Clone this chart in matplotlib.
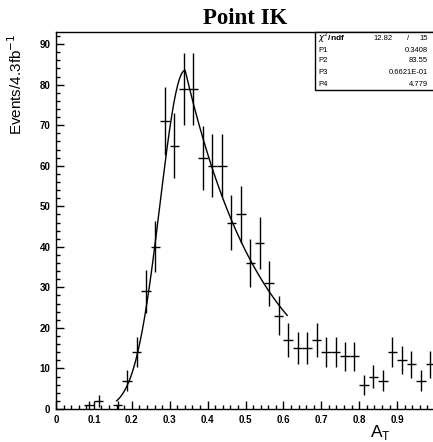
import numpy as np
import matplotlib.pyplot as plt
from matplotlib.ticker import MultipleLocator

# histogram contents, 40 bins of 0.025 in A_T
bin_centers = np.arange(0.0125, 1.0, 0.025)
counts = [0, 0, 0, 1, 2, 0, 1, 7, 14, 29,
          40, 71, 65, 79, 79, 62, 60, 60, 46, 48,
          36, 41, 31, 23, 17, 15, 15, 17, 14, 14,
          13, 13, 6, 8, 7, 14, 12, 11, 7, 11]

# fit results shown in the stats box
chi2, ndf = 12.82, 15
p1, p2, p3, p4 = 0.3408, 83.55, 0.6621e-01, 4.779
fit_range = (0.16, 0.61)

counts = np.array(counts, dtype=float)
errs = np.sqrt(counts)
mask = counts > 0

plt.rcParams['font.family'] = ['Liberation Sans', 'DejaVu Sans']

fig = plt.figure(figsize=(4.33, 4.42), dpi=100)
ax = fig.add_axes([56/433, 1-409/442, 379/433, 377/442])

ax.errorbar(bin_centers[mask], counts[mask], yerr=errs[mask], xerr=0.0125,
            fmt='none', ecolor='black', elinewidth=1.0, capsize=0)

# gaussian left of the peak, exponential tail to the right
xf = np.linspace(fit_range[0], fit_range[1], 400)
yf = np.where(xf < p1,
              p2*np.exp(-0.5*((xf-p1)/p3)**2),
              p2*np.exp(-p4*(xf-p1)))
ax.plot(xf, yf, color='black', lw=1.0)

ax.set_xlim(0, 1)
ax.set_ylim(0, 93)
ax.xaxis.set_major_locator(MultipleLocator(0.1))
ax.xaxis.set_minor_locator(MultipleLocator(0.02))
ax.yaxis.set_major_locator(MultipleLocator(10))
ax.yaxis.set_minor_locator(MultipleLocator(2))
ax.set_xticks(np.arange(0, 1.01, 0.1))
ax.set_xticklabels(['0', '0.1', '0.2', '0.3', '0.4', '0.5', '0.6', '0.7', '0.8', '0.9', '1'])
ax.tick_params(which='both', direction='in', labelsize=7, width=1)
ax.tick_params(which='major', length=6, pad=4)
ax.tick_params(which='minor', length=3)
for lab in ax.get_xticklabels() + ax.get_yticklabels():
    lab.set_fontweight('bold')
for s in ax.spines.values():
    s.set_linewidth(1.0)

fig.text(245/433, 1-19/442, 'Point IK', family='Liberation Serif', weight='bold',
         fontsize=16.5, ha='center', va='center')
fig.text(16/433, 1-84/442, 'Events/4.3fb$^{-1}$', rotation=90, fontsize=11,
         ha='center', va='center')
fig.text(380/433, 1-432/442, 'A$_\\mathregular{T}$', fontsize=12.5, ha='center', va='center')

# stats box
bx0, by0 = 315/433, 1-90/442
box = plt.Rectangle((bx0, by0), 1-bx0+0.01, (90-32)/442, transform=fig.transFigure,
                    fill=True, facecolor='white', edgecolor='black', lw=1.0)
fig.patches.append(box)
rows = [('$\\chi^2$/ndf', None),
        ('P1', '%.4f' % p1),
        ('P2', '%.2f' % p2),
        ('P3', '0.6621E-01'),
        ('P4', '%.3f' % p4)]
ys = [38, 50, 61, 73, 84]
fs = 5.5
for (lab, val), y in zip(rows, ys):
    fig.text(318/433, 1-y/442, lab, fontsize=fs + (0.5 if val is None else 0),
             ha='left', va='center', weight='bold' if val is None else 'normal')
    if val is not None:
        fig.text(428/433, 1-y/442, val, fontsize=fs, ha='right', va='center')
fig.text(393/433, 1-38/442, '%.2f' % chi2, fontsize=fs, ha='right', va='center')
fig.text(408/433, 1-38/442, '/', fontsize=fs, ha='center', va='center')
fig.text(428/433, 1-38/442, '%d' % ndf, fontsize=fs, ha='right', va='center')

fig.savefig('out.png', dpi=100)
